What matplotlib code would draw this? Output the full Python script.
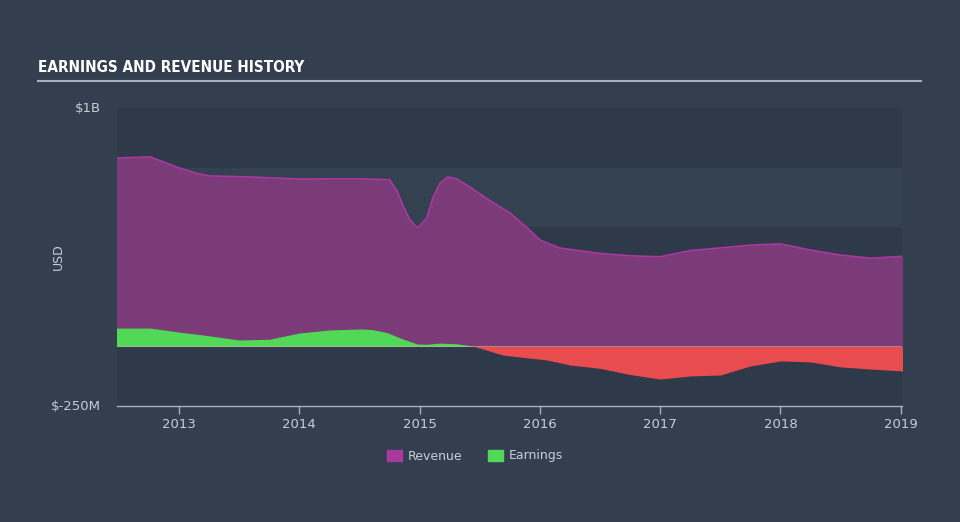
import numpy as np
import matplotlib
matplotlib.use("Agg")
import matplotlib.pyplot as plt
from matplotlib.patches import Patch

# values in billions USD
rev_years = [2012.48, 2012.76, 2012.87, 2013.0, 2013.14, 2013.25, 2013.58, 2014.0,
             2014.25, 2014.5, 2014.75, 2014.81, 2014.86, 2014.92, 2014.985, 2015.06,
             2015.11, 2015.17, 2015.234, 2015.31, 2015.42, 2015.58, 2015.75, 2015.9,
             2016.0, 2016.16, 2016.5, 2016.75, 2017.0, 2017.25, 2017.5, 2017.75,
             2018.0, 2018.25, 2018.5, 2018.75, 2019.02]
revenue = [0.790, 0.795, 0.774, 0.749, 0.727, 0.715, 0.711, 0.702,
           0.703, 0.703, 0.699, 0.656, 0.593, 0.530, 0.497, 0.539,
           0.623, 0.685, 0.711, 0.702, 0.668, 0.613, 0.560, 0.495,
           0.447, 0.413, 0.390, 0.380, 0.376, 0.402, 0.413, 0.425,
           0.430, 0.404, 0.383, 0.370, 0.378]

earn_years = [2012.48, 2012.76, 2013.0, 2013.2, 2013.5, 2013.75, 2014.0, 2014.25,
              2014.5, 2014.6, 2014.73, 2014.84, 2014.98, 2015.06, 2015.17, 2015.31,
              2015.44, 2015.5, 2015.69, 2015.86, 2016.06, 2016.25, 2016.5, 2016.75,
              2017.0, 2017.25, 2017.5, 2017.75, 2018.0, 2018.25, 2018.5, 2018.75,
              2019.02]
earnings = [0.077, 0.077, 0.060, 0.048, 0.027, 0.030, 0.056, 0.069,
            0.073, 0.071, 0.058, 0.035, 0.010, 0.009, 0.014, 0.011,
            0.002, -0.007, -0.036, -0.046, -0.057, -0.078, -0.092, -0.118,
            -0.137, -0.124, -0.120, -0.082, -0.061, -0.065, -0.086, -0.095,
            -0.103]

tick_years = [2013, 2014, 2015, 2016, 2017, 2018, 2019]

BG = "#333f4f"
PLOT_BG = "#2e3a49"
BAND = "#334150"
TXT = "#c8cdd3"

xr = np.array(rev_years)
rev = np.array(revenue)
xe = np.array(earn_years)
earn = np.array(earnings)

fig = plt.figure(figsize=(9.6, 5.22), dpi=100, facecolor=BG)
ax = fig.add_axes([117 / 960, 1 - 406 / 522, (902 - 117) / 960, (406 - 108) / 522])
ax.set_facecolor(PLOT_BG)

# alternating bands
for lo in [0.0, 0.5]:
    ax.axhspan(lo, lo + 0.25, color=BAND, lw=0, zorder=0)

ax.fill_between(xr, 0, rev, color="#7b3a78", lw=0, zorder=2)
ax.plot(xr, rev, color="#a8399f", lw=1.2, zorder=3, solid_joinstyle="round")
ax.fill_between(xe, 0, earn, where=earn >= 0, interpolate=True, color="#50d856", lw=0, zorder=4)
ax.fill_between(xe, 0, earn, where=earn <= 0, interpolate=True, color="#e84c4e", lw=0, zorder=4)
ax.axhline(0, color="#c8b89a", lw=0.8, zorder=5, alpha=0.6)

ax.set_xlim(2012.485, 2019.01)
ax.set_ylim(-0.25, 1.0)

for s in ["top", "right", "left"]:
    ax.spines[s].set_visible(False)
ax.spines["bottom"].set_color("#a8b0ba")
ax.spines["bottom"].set_linewidth(1)

ax.set_xticks(tick_years)
ax.set_xticklabels([str(t) for t in tick_years])
ax.tick_params(axis="x", colors="#a8b0ba", length=6, width=1, labelcolor=TXT, labelsize=9.5, pad=3)
ax.set_yticks([])

ax.text(-0.02, 1.0, "$1B", transform=ax.transAxes, ha="right", va="center", color=TXT, fontsize=9.5)
ax.text(-0.02, 0.0, "$-250M", transform=ax.transAxes, ha="right", va="center", color=TXT, fontsize=9.5)
fig.text(58 / 960, 1 - 257 / 522, "USD", rotation=90, ha="center", va="center", color=TXT, fontsize=9)

# title and underline
fig.text(38 / 960, 1 - 68 / 522, "EARNINGS AND REVENUE HISTORY", ha="left", va="center",
         color="white", fontsize=11, fontweight="bold", fontstretch="condensed",
         family="DejaVu Sans")
fig.add_artist(plt.Line2D([38 / 960, 921 / 960], [1 - 81 / 522, 1 - 81 / 522],
                          color="#a8aeb5", lw=1.5))

handles = [Patch(color="#a8399f", label="Revenue"), Patch(color="#50d856", label="Earnings")]
leg = fig.legend(handles=handles, loc="center", bbox_to_anchor=(475 / 960, 1 - 456 / 522),
                 ncol=2, frameon=False, fontsize=9, handlelength=1.2, handleheight=1.0,
                 columnspacing=2.0, handletextpad=0.5)
for t in leg.get_texts():
    t.set_color(TXT)

fig.savefig("out.png", dpi=100, facecolor=BG)
